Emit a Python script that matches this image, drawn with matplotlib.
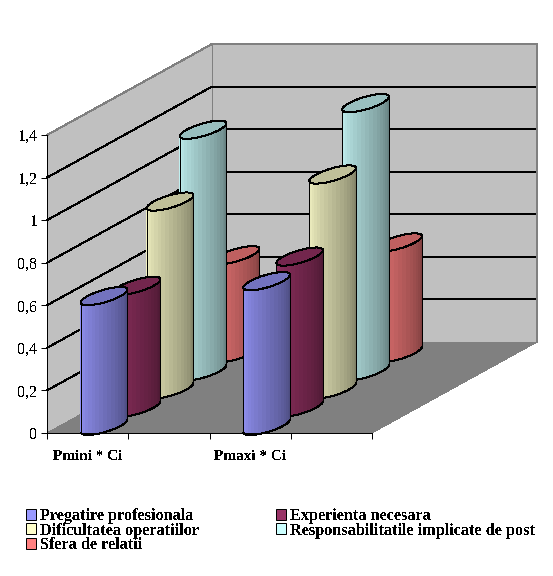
import numpy as np
import matplotlib
matplotlib.use('Agg')
import matplotlib.pyplot as plt
from matplotlib.patches import Patch

categories = ['Pmini * Ci', 'Pmaxi * Ci']
series_names = ['Pregatire profesionala', 'Experienta necesara', 'Dificultatea operatiilor',
                'Responsabilitatile implicate de post', 'Sfera de relatii']
pregatire = [0.61, 0.68]
experienta = [0.573, 0.71]
dificultatea = [0.883, 1.01]
responsabilitatile = [1.135, 1.26]
sfera = [0.46, 0.52]
series_values = [pregatire, experienta, dificultatea, responsabilitatile, sfera]
series_colors = ['#9999FF', '#993366', '#FFFFCC', '#CCFFFF', '#FF8080']
y_ticks = [0, 0.2, 0.4, 0.6, 0.8, 1, 1.2, 1.4]
y_labels = ['0', '0,2', '0,4', '0,6', '0,8', '1', '1,2', '1,4']

plt.rcParams['font.family'] = 'Liberation Serif'
plt.rcParams['text.antialiased'] = False

W, H = 553, 576
fig = plt.figure(figsize=(W / 100, H / 100), dpi=100)
ax = fig.add_axes([47 / W, (H - 433) / H, 325 / W, 298 / H])
ax.set_xlim(0, 2)
ax.set_ylim(0, 1.4)
ax.patch.set_visible(False)

# depth of the 3d box, in data units per unit of depth
DX = 165 / 162.5
DY = 91 / 212.9
LW = 0.72


def proj(u, v, d):
    return u + d * DX, v + d * DY


def poly(us, vs, ds, **kw):
    x, y = proj(np.asarray(us, float), np.asarray(vs, float), np.asarray(ds, float))
    ax.fill(x, y, clip_on=False, antialiased=False, **kw)


def line(us, vs, ds, color='black', z=2):
    x, y = proj(np.asarray(us, float), np.asarray(vs, float), np.asarray(ds, float))
    ax.plot(x, y, color=color, lw=LW, clip_on=False, antialiased=False, zorder=z,
            solid_capstyle='butt')


# walls and floor
poly([0, 0, 0, 0], [0, 1.4, 1.4, 0], [0, 0, 1, 1], color='#C0C0C0', lw=0, zorder=1)
poly([0, 2, 2, 0], [0, 0, 1.4, 1.4], [1, 1, 1, 1], color='#C0C0C0', lw=0, zorder=1)
poly([0, 2, 2, 0], [0, 0, 0, 0], [0, 0, 1, 1], color='#808080', lw=0, zorder=1.2)

for t in y_ticks[1:-1]:
    line([0, 0, 2], [t, t, t], [0, 1, 1], z=1.5)
line([0, 0, 2, 2], [1.4, 1.4, 1.4, 0], [0, 1, 1, 1], color='#808080', z=1.5)
line([0, 0], [0, 1.4], [1, 1], color='#808080', z=1.1)

N_BANDS = 18
Z_R = 0.1  # depth radius of a cylinder
X_R = Z_R * DX
NUDGE = 0.022  # cylinders sit a little forward of the slot centre


def cylinder(uc, dc, value, color, z):
    rgb = np.array(matplotlib.colors.to_rgb(color))
    t = np.radians(np.linspace(225, 405, N_BANDS + 1))
    us = uc + X_R * np.cos(t)
    ds = dc + Z_R * np.sin(t)
    for i in range(N_BANDS):
        shade = 0.97 - 0.47 * i / (N_BANDS - 1)
        poly([us[i], us[i + 1], us[i + 1], us[i]], [0, 0, value, value],
             [ds[i], ds[i + 1], ds[i + 1], ds[i]], color=rgb * shade, lw=0.3, zorder=z)
    line(us, np.zeros_like(us), ds, z=z + 0.1)
    line([us[0], us[0]], [0, value], [ds[0], ds[0]], z=z + 0.1)
    line([us[-1], us[-1]], [0, value], [ds[-1], ds[-1]], z=z + 0.1)
    # top cap
    t2 = np.linspace(0, 2 * np.pi, 80)
    u2 = uc + X_R * np.cos(t2)
    d2 = dc + Z_R * np.sin(t2)
    v2 = np.full_like(u2, value)
    poly(u2, v2, d2, color=rgb * 0.75, lw=0, zorder=z + 0.2)
    line(u2, v2, d2, z=z + 0.3)


# back to front, so nearer cylinders cover the others
n = len(series_values)
for s in range(n - 1, -1, -1):
    depth = (s + 0.5) / n - NUDGE
    for c in range(len(categories)):
        cylinder(c + 0.25 + NUDGE * DX, depth, series_values[s][c], series_colors[s],
                 3 + (n - s) * 2 + c * 0.5)

# axes
for side in ['top', 'right']:
    ax.spines[side].set_visible(False)
ax.spines['left'].set_linewidth(LW)
ax.spines['bottom'].set_linewidth(LW)
ax.spines['bottom'].set_zorder(20)
ax.set_yticks(y_ticks)
ax.set_yticklabels(y_labels, fontsize=11.5)
ax.set_xticks([0, 0.5, 1, 1.5, 2])
ax.set_xticklabels([])
ax.set_xticks([c + 0.25 for c in range(len(categories))], minor=True)
ax.set_xticklabels(categories, minor=True, fontsize=11, fontweight='bold')
ax.tick_params(axis='both', which='major', length=4, width=LW, color='black', pad=3)
ax.tick_params(axis='x', which='minor', length=0, pad=12)

order = [0, 2, 4, 1, 3]
handles = [Patch(facecolor=series_colors[i], edgecolor='black', lw=LW) for i in order]
labels = [series_names[i] for i in order]
fig.legend(handles, labels, ncol=2, frameon=False, loc='upper left',
           bbox_to_anchor=(21 / W, 1 - 503 / H), bbox_transform=fig.transFigure,
           prop={'family': 'Liberation Serif', 'weight': 'bold', 'size': 11.7},
           handlelength=0.65, handleheight=0.65, handletextpad=0.25, labelspacing=-0.08,
           columnspacing=4.7, borderpad=0.3, borderaxespad=0)

fig.savefig('out.png', dpi=100)
